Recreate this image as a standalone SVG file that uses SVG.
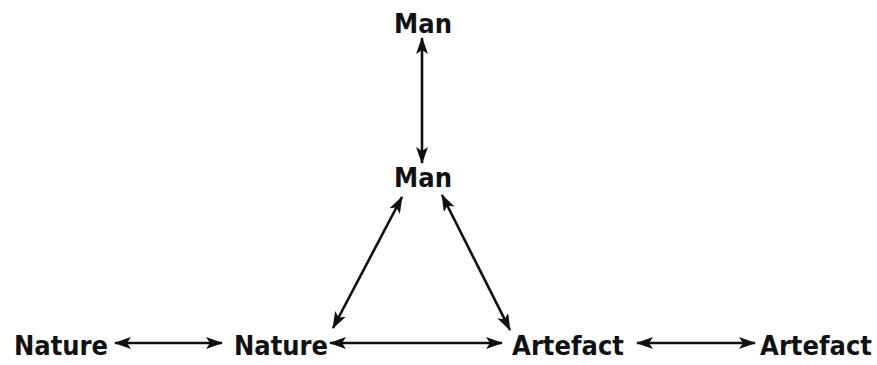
<svg xmlns="http://www.w3.org/2000/svg" width="877" height="365" viewBox="0 0 877 365">
<style>
.t{font-family:"DejaVu Sans Condensed","DejaVu Sans",sans-serif;font-weight:bold;font-size:27px;fill:#111;text-anchor:middle}
.c{stroke:#111;stroke-width:2.6;fill:none;marker-start:url(#ah);marker-end:url(#ah)}
</style>
<defs>
<marker id="ah" viewBox="0 0 17 12" refX="16" refY="6" markerWidth="17" markerHeight="12" markerUnits="userSpaceOnUse" orient="auto-start-reverse">
<path d="M0,0 L17,6 L0,12 L4,6 Z" fill="#111"/>
</marker>
</defs>
<rect width="877" height="365" fill="#fff"/>
<g id="man-top"><text class="t" x="423" y="33">Man</text></g>
<g id="man-mid"><text class="t" x="423" y="187">Man</text></g>
<g id="nature-left"><text class="t" x="61" y="355">Nature</text></g>
<g id="nature-mid"><text class="t" x="281" y="355">Nature</text></g>
<g id="artefact-mid"><text class="t" x="568" y="355">Artefact</text></g>
<g id="artefact-right"><text class="t" x="816" y="355">Artefact</text></g>
<g id="connectors">
<line class="c" x1="422" y1="38" x2="422" y2="163"/>
<line class="c" x1="402" y1="197" x2="333" y2="328"/>
<line class="c" x1="442" y1="195" x2="510" y2="330"/>
<line class="c" x1="115" y1="343" x2="222" y2="343"/>
<line class="c" x1="330" y1="343" x2="502" y2="343"/>
<line class="c" x1="637" y1="343" x2="755" y2="343"/>
</g>
</svg>
